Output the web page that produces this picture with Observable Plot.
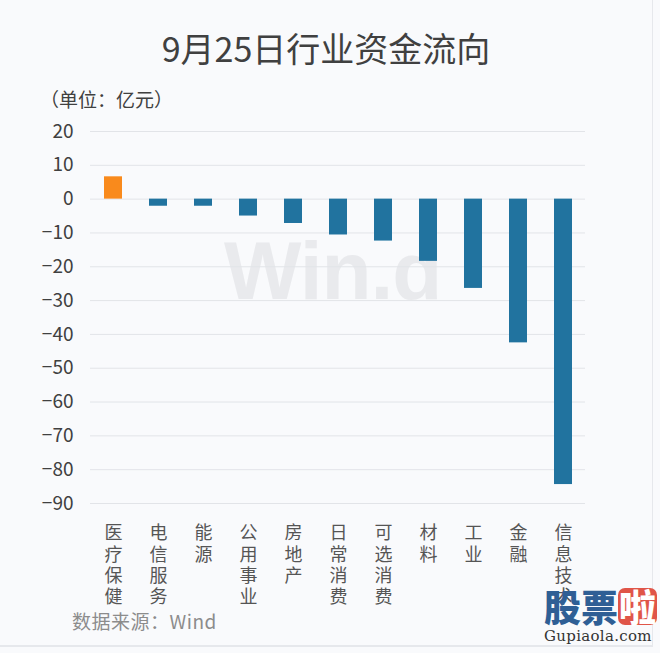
<!DOCTYPE html>
<html><head><meta charset="utf-8">
<script src="https://cdn.jsdelivr.net/npm/d3@7"></script>
<script src="https://cdn.jsdelivr.net/npm/@observablehq/plot@0.6"></script>
<style>
body{margin:0;background:#f9fafc;font-family:"Noto Sans CJK SC","Noto Sans",sans-serif;}
#wrap{position:relative;width:660px;height:653px;overflow:hidden;background:#f9fafc;}
#frame{position:absolute;left:0;top:0;width:652px;height:645px;border-right:1px solid #e6e8ec;border-bottom:2px solid #e6e8ec;}
#wm{position:absolute;left:224px;top:230px;font-family:"Liberation Sans",Arial,sans-serif;font-weight:bold;font-size:82px;line-height:1;color:#e9eaed;letter-spacing:-1px;}
#chart{position:absolute;left:0;top:0;}
#title{position:absolute;left:0;width:652px;top:31px;text-align:center;font-size:34px;line-height:1;color:#404040;}
#sub{position:absolute;left:40px;top:89px;font-size:19px;line-height:1;color:#404040;}
#cap{position:absolute;left:72px;top:611px;font-size:19px;line-height:1;color:#8c8c8c;letter-spacing:0.5px;}
#logo{position:absolute;left:544px;top:588px;width:116px;}
#logo .cn{font-family:"Noto Sans CJK SC",sans-serif;font-weight:900;font-size:37px;line-height:1;color:#2f5f95;white-space:nowrap;}
#logo .la{display:inline-block;background:#e05548;color:#fff;border-radius:7px;padding:0 1px;}
#logo .en{font-family:"DejaVu Serif","Liberation Serif",serif;font-size:15px;color:#333;margin-top:2px;letter-spacing:0.3px;}
</style></head><body>
<div id="wrap">
  <div id="frame"></div>
  <div id="wm">Win.d</div>
  <div id="chart"></div>
  <div id="title">9月25日行业资金流向</div>
  <div id="sub">（单位：亿元）</div>
  <div id="cap">数据来源：Wind</div>
  <div id="logo"><div class="cn">股票<span class="la">啦</span></div><div class="en">Gupiaola.com</div></div>
</div>
<script>
const categories = ["医疗保健","电信服务","能源","公用事业","房地产","日常消费","可选消费","材料","工业","金融","信息技术"];
const values = [6.6, -2.1, -2.1, -5.0, -7.2, -10.6, -12.4, -18.4, -26.4, -42.5, -84.4];
const yTicks = [20, 10, 0, -10, -20, -30, -40, -50, -60, -70, -80, -90];

const data = categories.map((c, i) => ({name: c, value: values[i]}));

const chart = Plot.plot({
  width: 660,
  height: 653,
  marginTop: 131,
  marginBottom: 150,
  marginLeft: 90,
  marginRight: 75,
  style: {background: "transparent", fontFamily: "'Noto Sans CJK SC', sans-serif", overflow: "visible"},
  x: {domain: categories, paddingInner: 0.6, paddingOuter: 0.3, label: null},
  y: {domain: [-90, 20], label: null},
  marks: [
    Plot.gridY(yTicks, {stroke: "#e2e4e8", strokeOpacity: 1, strokeWidth: 1}),
    Plot.barY(data.filter(d => d.value >= 0), {x: "name", y: "value", fill: "#f98a1c"}),
    Plot.barY(data.filter(d => d.value < 0), {x: "name", y: "value", fill: "#21739f"}),
    Plot.axisY(yTicks, {tickSize: 0, tickPadding: 17, fontSize: 19, fill: "#404040", label: null}),
    Plot.axisX({tickSize: 0, tickPadding: 21, fontSize: 18, fill: "#555", lineHeight: 1.17, lineAnchor: "top", tickFormat: d => [...d].join("\n"), label: null})
  ]
});
document.getElementById("chart").appendChild(chart);
</script>
</body></html>
